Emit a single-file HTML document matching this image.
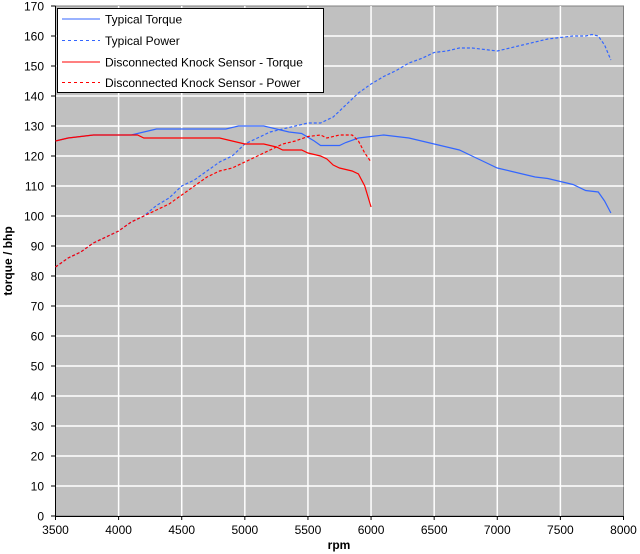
<!DOCTYPE html>
<html><head><meta charset="utf-8"><style>
body{margin:0;background:#fff;}
svg{display:block;font-family:"Liberation Sans",Arial,sans-serif;}
</style></head><body>
<svg id="chart" width="640" height="554" viewBox="0 0 640 554">
<rect x="55.5" y="6" width="568" height="510" fill="#c0c0c0" stroke="#808080"/>
<g id="grid"></g><g id="axes"></g><g id="series"></g>
<text x="339" y="549" font-size="12" font-weight="bold" text-anchor="middle">rpm</text>
<text transform="translate(12,261) rotate(-90)" font-size="12" font-weight="bold" text-anchor="middle">torque / bhp</text>
<g>
<rect x="57.5" y="8.5" width="266" height="84" fill="#fff" stroke="#000"/>
<g><line x1="62" y1="19" x2="100" y2="19" stroke="#3366ff"/><text x="105" y="23.5" font-size="12">Typical Torque</text></g>
<g><line x1="62" y1="40.5" x2="100" y2="40.5" stroke="#3366ff" stroke-dasharray="3,3"/><text x="105" y="45" font-size="12">Typical Power</text></g>
<g><line x1="62" y1="62" x2="100" y2="62" stroke="#ff0000"/><text x="105" y="66.5" font-size="12">Disconnected Knock Sensor - Torque</text></g>
<g><line x1="62" y1="82.5" x2="100" y2="82.5" stroke="#ff0000" stroke-dasharray="3,3"/><text x="105" y="87" font-size="12">Disconnected Knock Sensor - Power</text></g>
</g>
</svg>
<script>
const typTorqueRpm=[3500,3600,3700,3800,4100,4200,4300,4850,4950,5150,5250,5350,5450,5550,5600,5750,5800,5900,6000,6100,6200,6300,6400,6500,6600,6700,6800,6900,7000,7100,7200,7300,7400,7500,7600,7700,7800,7850,7900];
const typTorque=[125,126,126.5,127,127,128,129,129,130,130,129,128,127.5,125,123.5,123.5,124.5,126,126.5,127,126.5,126,125,124,123,122,120,118,116,115,114,113,112.5,111.5,110.5,108.5,108,105,101];
const typPowerRpm=[3500,3600,3700,3800,3900,4000,4100,4200,4300,4400,4500,4600,4700,4800,4900,5000,5100,5200,5300,5400,5500,5600,5700,5800,5900,6000,6100,6200,6300,6400,6500,6600,6700,6800,6900,7000,7100,7200,7300,7400,7500,7600,7700,7750,7800,7850,7900];
const typPower=[83,86,88,91,93,95,98,100,103.5,106,110,112,115,118,120,124,126,128,129,130,131,131,133,137,141,144,146.5,148.5,151,152.5,154.5,155,156,156,155.5,155,156,157,158,159,159.5,160,160,160.5,160,157,152];
const knockTorqueRpm=[3500,3600,3700,3800,4150,4200,4800,4900,5000,5150,5250,5300,5450,5500,5600,5650,5700,5750,5850,5900,5950,6000];
const knockTorque=[125,126,126.5,127,127,126,126,125,124,124,123,122,122,121,120,119,117,116,115,114,110,103];
const knockPowerRpm=[3500,3600,3700,3800,3900,4000,4100,4200,4300,4400,4500,4600,4700,4800,4900,5000,5100,5200,5300,5400,5500,5600,5650,5750,5850,5900,5950,6000];
const knockPower=[83,86,88,91,93,95,98,100,102,104,107,110,113,115,116,118,120,122,124,125,126.5,127,126,127,127,125,121,118];
const yTicks=[0,10,20,30,40,50,60,70,80,90,100,110,120,130,140,150,160,170];
const xTicks=[3500,4000,4500,5000,5500,6000,6500,7000,7500,8000];
const NS='http://www.w3.org/2000/svg';
const X=r=>55.5+(r-3500)*568/4500;
const Y=v=>516-v*3;
function mk(tag,attrs,parent){const e=document.createElementNS(NS,tag);for(const k in attrs)e.setAttribute(k,attrs[k]);document.getElementById(parent).appendChild(e);return e;}
yTicks.forEach(v=>{
  if(v>0&&v<170){const g=mk('line',{x1:55.5,x2:623.5,y1:Y(v),y2:Y(v),stroke:'#fff','stroke-width':1.5},'grid');
  
  }
  const t=mk('line',{x1:51,x2:55.5,y1:Y(v),y2:Y(v),stroke:'#000'},'axes');
  
  
  const l=mk('text',{x:44,y:Y(v)+4.5,'font-size':12,'text-anchor':'end'},'axes');l.textContent=v;
  
  
});
xTicks.forEach(r=>{
  if(r>3500&&r<8000){const g=mk('line',{x1:X(r),x2:X(r),y1:6,y2:516,stroke:'#fff','stroke-width':1.5},'grid');
  
  }
  const t=mk('line',{x1:X(r),x2:X(r),y1:516,y2:520,stroke:'#000'},'axes');
  
  
  const l=mk('text',{x:X(r),y:534,'font-size':12,'text-anchor':'middle'},'axes');l.textContent=r;
  
  
});
const ax=mk('path',{d:'M55.5 6V516.5H623.5',fill:'none',stroke:'#000'},'axes');


function line(xs,ys,color,dash,name){
  const p=mk('polyline',{points:xs.map((r,i)=>X(r)+','+Y(ys[i])).join(' '),fill:'none',stroke:color,'stroke-width':1.2},'series');
  if(dash)p.setAttribute('stroke-dasharray','3,2');
  
  
}
line(typTorqueRpm,typTorque,'#3366ff',false,'typical-torque-line');
line(typPowerRpm,typPower,'#3366ff',true,'typical-power-line');
line(knockTorqueRpm,knockTorque,'#ff0000',false,'knock-torque-line');
line(knockPowerRpm,knockPower,'#ff0000',true,'knock-power-line');
</script>
</body></html>
